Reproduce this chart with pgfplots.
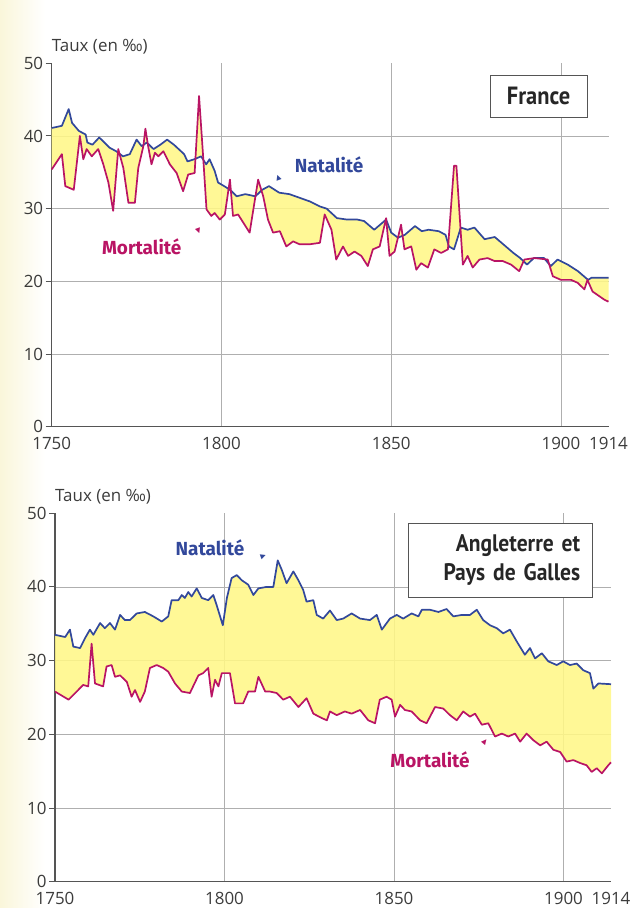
\documentclass[border=0pt]{standalone}
\usepackage{pgfplots}
\pgfplotsset{compat=1.18}
\usepgfplotslibrary{fillbetween}
\usepackage{fontspec}
\setmainfont{Open Sans}
\newfontfamily\labfont{Fira Sans}
\newfontfamily\boxfont[FakeStretch=0.9]{PT Sans}
\newfontfamily\symfont{DejaVu Sans}
\definecolor{natblue}{RGB}{50,72,155}
\definecolor{mortmag}{RGB}{185,20,100}
\definecolor{fillyel}{RGB}{255,247,135}
\definecolor{gridgray}{RGB}{175,175,175}
\definecolor{axgray}{RGB}{85,85,85}
\definecolor{txtgray}{RGB}{60,60,60}
\definecolor{paleyel}{RGB}{250,246,218}

\pgfplotsset{
  chartstyle/.style={
    scale only axis,
    set layers,
    clip=false,
    xmin=1750, xmax=1914, ymin=0, ymax=50,
    axis lines*=left,
    axis line style={axgray, line width=1.3bp},
    xtick={1750,1800,1850,1900},
    xticklabels={1750,1800,1850,1900},
    extra x ticks={1914},
    extra x tick labels={1914},
    extra x tick style={grid=none},
    ytick={0,10,20,30,40},
    extra y ticks={50},
    extra y tick style={grid=none},
    xmajorgrids, ymajorgrids,
    major grid style={gridgray, line width=0.8bp},
    tick align=outside,
    major tick length=6bp,
    xtick style={draw=none},
    ytick style={axgray, line width=1bp},
    /pgf/number format/assume math mode=true,
    tick label style={font=\fontsize{17}{17}\selectfont, text=txtgray},
    xticklabel style={yshift=-1bp},
    yticklabel style={xshift=1bp},
  },
  natline/.style={natblue, line width=1.7bp, line join=round},
  mortline/.style={mortmag, line width=1.7bp, line join=round},
}

\begin{document}
\begin{tikzpicture}
\path (0,0) rectangle (632bp,-908bp);

% ---------------- France ----------------
\begin{axis}[chartstyle, at={(51.7bp,-426.7bp)}, anchor=south west,
  width=556.8bp, height=363.4bp]
\addplot[natline, name path=nat] coordinates {
(1750,41.1)(1753,41.4)(1755,43.7)(1756,41.8)(1758,40.7)(1760,40.2)(1760.5,39.1)(1762,38.8)(1764,39.8)(1767,38.4)(1769,37.9)(1771,37.2)(1773,37.5)(1775,39.5)(1776.5,38.6)(1778,39.1)(1780,38.2)(1782,38.8)(1784,39.5)(1786,38.8)(1789,37.5)(1790,36.5)(1792,36.8)(1794,37.2)(1795.5,36.1)(1796.5,36.8)(1798,35.2)(1799,33.6)(1801.5,32.9)(1803,32.4)(1804.5,31.7)(1807,32)(1810,31.7)(1812,32.6)(1814,33.1)(1817,32.2)(1820,32)(1823,31.5)(1826,31)(1829,30.3)(1831,30)(1834,28.7)(1837,28.5)(1840,28.5)(1842,28.3)(1845,27.1)(1848.5,28.5)(1850,26.7)(1852,26)(1854,26.4)(1857,27.6)(1859,26.9)(1861,27.1)(1864,26.9)(1866,26.4)(1867,24.8)(1868.5,24.4)(1870.5,27.4)(1872.5,27.1)(1874.5,27.4)(1877.5,25.8)(1880.5,26.1)(1883,25.1)(1886,23.9)(1888,23.2)(1890,22.3)(1892,23.2)(1895,23.2)(1897,22.1)(1899,23)(1902,22.3)(1905,21.4)(1908,20.2)(1909,20.5)(1914,20.5)
};
\addplot[mortline, name path=mort] coordinates {
(1750,35.4)(1753,37.5)(1754,33.1)(1756.5,32.6)(1758.3,40)(1759.3,36.8)(1760.3,38.2)(1761.8,37.2)(1763.7,38.2)(1765.2,36.1)(1766.7,33.6)(1768.1,29.7)(1769.6,38.2)(1771.1,35.6)(1772.6,30.8)(1774.5,30.8)(1775.5,35.6)(1777,38.6)(1777.6,41)(1778.4,38.6)(1779.4,36.1)(1780.4,37.7)(1781.4,37.2)(1782.9,37.9)(1784.8,36.1)(1786.8,34.9)(1788.7,32.4)(1790.2,34.7)(1792.1,34.9)(1793.4,45.5)(1794.6,37.2)(1795.6,29.9)(1797,29)(1798,29.4)(1799.5,28.5)(1801,29.2)(1802.5,34)(1803.4,29)(1804.9,29.2)(1806.4,28.1)(1808.3,26.7)(1810.8,34)(1812.3,31.7)(1813.7,28.5)(1815.2,26.7)(1817.2,26.9)(1819.1,24.8)(1821.1,25.5)(1823,25.1)(1826,25.1)(1829,25.3)(1830.4,29.2)(1832.4,27.1)(1833.8,23)(1835.8,24.8)(1837.3,23.5)(1839.2,24.1)(1841.2,23.5)(1843.1,22.1)(1844.6,24.4)(1846.6,24.8)(1848.5,28.7)(1849.5,23.5)(1851,24.1)(1852.9,27.8)(1853.9,24.4)(1855.9,24.8)(1857.4,21.6)(1858.8,22.5)(1860.8,21.9)(1862.7,24.4)(1864.7,23.9)(1866.7,24.4)(1868.5,35.9)(1869.2,35.9)(1871.1,22.3)(1872.5,23.5)(1874,21.9)(1876,23)(1878.4,23.2)(1880.4,22.8)(1882.8,22.8)(1885.3,22.3)(1887.7,21.4)(1889.2,23)(1892.2,23.2)(1896.1,23)(1897.6,20.7)(1900,20.2)(1903,20.2)(1904.9,19.8)(1906.9,18.9)(1907.8,20.2)(1909.3,18.6)(1912.7,17.5)(1914,17.2)
};
\addplot[fillyel, fill opacity=0.88, draw=none] fill between[of=nat and mort];
\node[text=natblue, font=\labfont\bfseries\fontsize{19}{19}\selectfont] at (axis cs:1831.7,36.0) {Natalité};
\node[text=natblue, font=\symfont\fontsize{7}{7}\selectfont, rotate=20, inner sep=0] at (axis cs:1816.7,34.2) {▲};
\node[text=mortmag, font=\labfont\bfseries\fontsize{19}{19}\selectfont] at (axis cs:1776.5,24.7) {Mortalité};
\node[text=mortmag, font=\symfont\fontsize{7}{7}\selectfont, rotate=200, inner sep=0] at (axis cs:1793.2,26.9) {▲};
\node[draw=axgray, line width=0.7bp, fill=white, minimum width=97bp, minimum height=42bp,
  font=\boxfont\bfseries\fontsize{25}{25}\selectfont, text=black!85] at (axis cs:1893.4,45.5) {France};
\node[anchor=base west, font=\fontsize{17}{17}\selectfont, text=txtgray, inner sep=0, yshift=12bp] at (rel axis cs:0,1) {Taux (en ‰)};
\end{axis}

% ---------------- Angleterre ----------------
\begin{axis}[chartstyle, at={(55bp,-881.7bp)}, anchor=south west,
  width=556bp, height=368.5bp]
\addplot[natline, name path=nat] coordinates {
(1750,33.5)(1753,33.2)(1754.4,34.2)(1755.4,31.9)(1757.4,31.7)(1758.8,33)(1760.3,34.2)(1761.3,33.5)(1763.3,35.1)(1764.7,34.4)(1766.2,35.1)(1767.7,34.2)(1769.2,36.2)(1770.6,35.5)(1772.1,35.5)(1774.1,36.4)(1776.5,36.6)(1779,36)(1781.5,35.3)(1783.4,36)(1784.4,38.2)(1786.4,38.2)(1787.4,38.9)(1788.3,38.5)(1789.3,39.3)(1790.3,38.7)(1791.8,39.8)(1793.3,38.5)(1795.2,38.2)(1796.7,38.9)(1797.7,37.5)(1799.5,34.8)(1800.7,38.5)(1802.1,41.2)(1803.6,41.6)(1805.1,40.9)(1807,40.3)(1808.5,38.9)(1810,39.8)(1812.4,40)(1814.4,40)(1815.7,43.6)(1816.9,42.3)(1818.3,40.5)(1820.3,42.1)(1821.8,40.9)(1823.2,39.6)(1824.2,38)(1826.2,38.2)(1827.2,36.2)(1829.1,35.7)(1831.1,36.8)(1833.1,35.5)(1835,35.7)(1837.5,36.4)(1840,35.7)(1842.9,35.5)(1844.9,36.2)(1846.4,34.2)(1848.8,35.7)(1850.8,36.2)(1852.7,35.7)(1855.2,36.4)(1857.2,36)(1858.2,36.9)(1860.6,36.9)(1863.1,36.6)(1865.5,37)(1867.5,36)(1870,36.2)(1872.4,36.2)(1874.4,36.9)(1876.3,35.5)(1878.3,34.8)(1880.3,34.4)(1882.2,33.7)(1884.2,34.2)(1886.2,32.6)(1888.6,30.8)(1890.1,31.7)(1891.6,30.3)(1893.6,31)(1895.5,29.9)(1898,29.4)(1899.9,29.9)(1901.9,29.4)(1903.9,29.6)(1905.8,28.7)(1907.8,28.3)(1908.8,26.2)(1910.3,26.9)(1914,26.8)
};
\addplot[mortline, name path=mort] coordinates {
(1750,25.8)(1754,24.7)(1756.4,25.8)(1758.3,26.7)(1759.8,26.5)(1760.8,32.3)(1761.8,26.9)(1764.2,26.5)(1765.2,29.2)(1766.7,29.4)(1767.7,27.8)(1769.2,28)(1771.2,27.1)(1772.6,25.1)(1773.6,26)(1775.1,24.4)(1776.5,25.8)(1778,29)(1780,29.4)(1781.9,29)(1783.4,28.5)(1785.4,26.9)(1787.4,25.8)(1789.8,25.6)(1792.3,28)(1793.7,28.3)(1795.2,29)(1796.2,25.1)(1797.2,27.4)(1798.2,26.5)(1799.2,28.3)(1801.6,28.3)(1803.1,24.2)(1805.5,24.2)(1807,25.8)(1809,25.8)(1810,27.8)(1812,25.8)(1813.4,25.8)(1815.4,25.6)(1817.3,24.7)(1819.3,25.1)(1821.8,23.7)(1824.2,24.9)(1826.2,22.8)(1828.7,22.2)(1830.2,21.9)(1831.1,23.1)(1833.1,22.6)(1835.5,23.1)(1837.5,22.8)(1840,23.3)(1842.4,21.9)(1844.4,21.5)(1845.8,24.7)(1847.8,25.1)(1849.3,24.7)(1850.3,22.4)(1851.8,24)(1853.2,23.3)(1855.2,23.1)(1857.7,21.9)(1859.6,21.5)(1862.1,23.7)(1864.5,23.5)(1866.5,22.6)(1868.5,21.9)(1870.4,23.1)(1872.4,22.4)(1873.9,22.8)(1875.9,21.3)(1877.8,21.5)(1879.8,19.7)(1881.8,20.1)(1883.7,19.7)(1885.7,20.1)(1887.2,19)(1889.1,20.1)(1891.1,19.2)(1893.1,18.5)(1895,19)(1897,17.9)(1899,17.6)(1900.9,16.3)(1902.9,16.5)(1904.9,16.1)(1906.8,15.8)(1908.3,14.9)(1909.8,15.4)(1911.3,14.7)(1913.2,15.8)(1914,16.2)
};
\addplot[fillyel, fill opacity=0.88, draw=none] fill between[of=nat and mort];
\node[text=natblue, font=\labfont\bfseries\fontsize{19}{19}\selectfont] at (axis cs:1795.7,45.3) {Natalité};
\node[text=natblue, font=\symfont\fontsize{7}{7}\selectfont, rotate=-70, inner sep=0] at (axis cs:1811.4,44.1) {▲};
\node[text=mortmag, font=\labfont\bfseries\fontsize{19}{19}\selectfont] at (axis cs:1860.6,16.5) {Mortalité};
\node[text=mortmag, font=\symfont\fontsize{7}{7}\selectfont, rotate=-40, inner sep=0] at (axis cs:1876.8,19.0) {▲};
\node[draw=axgray, line width=0.7bp, fill=white, minimum width=184bp, minimum height=74bp,
  align=right, text width=160bp, font=\boxfont\bfseries\fontsize{24}{29}\selectfont, text=black!85] at (axis cs:1881.3,43.6) {Angleterre et\\Pays de Galles};
\node[anchor=base west, font=\fontsize{17}{17}\selectfont, text=txtgray, inner sep=0, yshift=12bp] at (rel axis cs:0,1) {Taux (en ‰)};
\end{axis}
\shade[left color=paleyel, right color=white, blend mode=multiply] (0,0) rectangle (45bp,-908bp);
\end{tikzpicture}
\end{document}
